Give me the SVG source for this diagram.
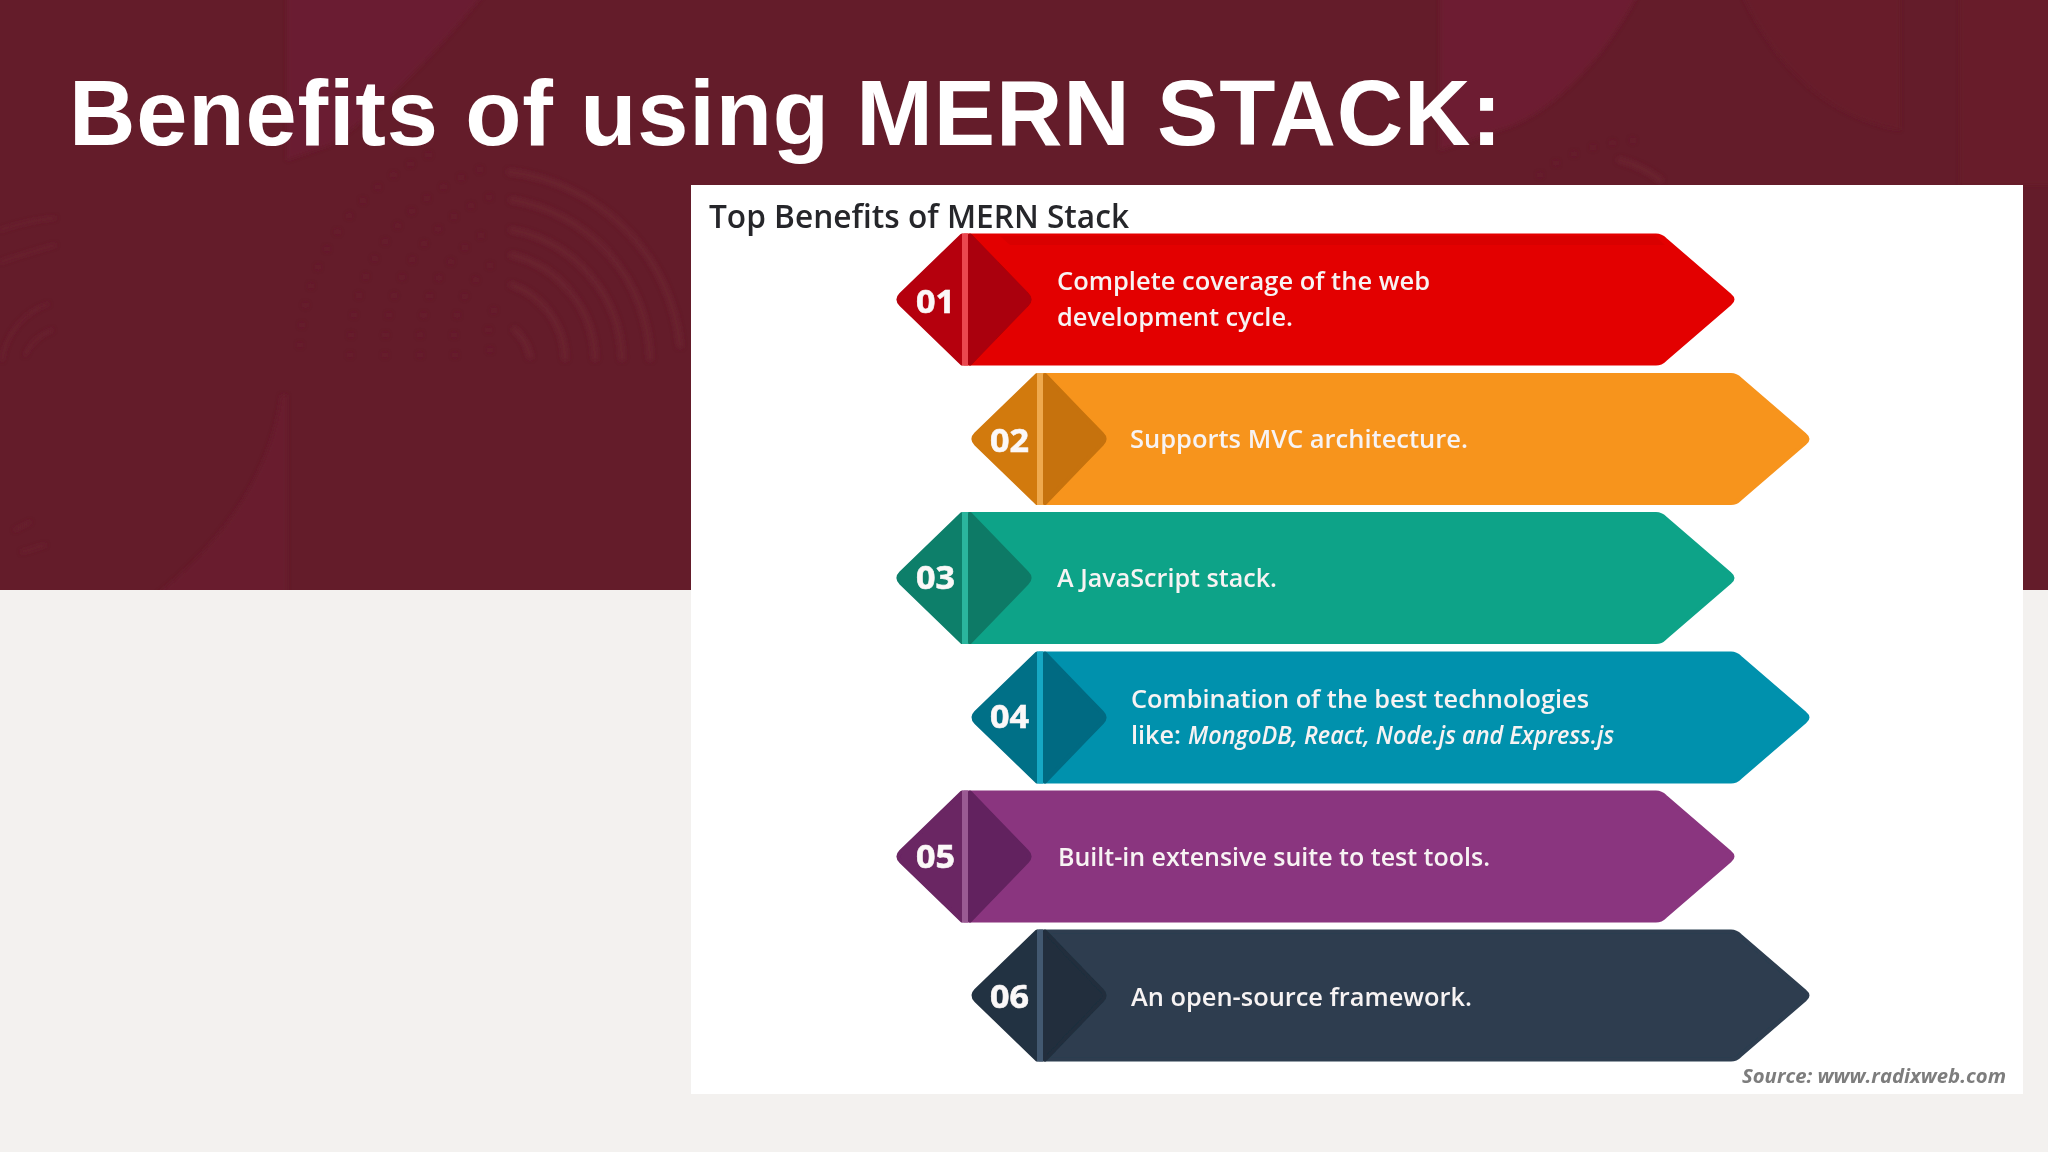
<svg xmlns="http://www.w3.org/2000/svg" width="2048" height="1152" viewBox="0 0 2048 1152">
<style>
.pat{fill:none;stroke:#6e2331;stroke-width:7;stroke-linecap:round;opacity:.6}
.dots{fill:none;stroke:#6d2230;stroke-width:5;stroke-linecap:round;stroke-dasharray:.1 20;opacity:.6}
.fine{fill:none;stroke:#6c2230;stroke-width:2.5;stroke-linecap:round}
.lb{font-family:"Open Sans","Liberation Sans",sans-serif;font-size:26px;font-weight:600;fill:#f7f3f3}
.num{font-family:"Open Sans","Liberation Sans",sans-serif;font-size:33px;font-weight:700;fill:#fbf8f8;stroke:#fbf8f8;stroke-width:.6}
.it{font-style:italic}
.s{stroke-width:4;stroke-linejoin:round}
.m1{fill:#e30000;stroke:#e30000}.l1{fill:#b5040b;stroke:#b5040b}.i1{fill:#aa0208;stroke:#aa0208}.d1{fill:#ea4750}
.m2{fill:#f7941e;stroke:#f7941e}.l2{fill:#d27a10;stroke:#d27a10}.i2{fill:#c6720c;stroke:#c6720c}.d2{fill:#efa94e}
.m3{fill:#0ca388;stroke:#0ca388}.l3{fill:#0b7f6b;stroke:#0b7f6b}.i3{fill:#0b7a66;stroke:#0b7a66}.d3{fill:#2cb59d}
.m4{fill:#0591ad;stroke:#0591ad}.l4{fill:#066f87;stroke:#066f87}.i4{fill:#056a82;stroke:#056a82}.d4{fill:#18a8c4}
.m5{fill:#8a357f;stroke:#8a357f}.l5{fill:#6a2564;stroke:#6a2564}.i5{fill:#62235f;stroke:#62235f}.d5{fill:#9a5a93}
.m6{fill:#2d3e50;stroke:#2d3e50}.l6{fill:#243342;stroke:#243342}.i6{fill:#202e3d;stroke:#202e3d}.d6{fill:#43586f}
</style>
<defs>
<filter id="soft" x="-5%" y="-5%" width="110%" height="110%"><feGaussianBlur stdDeviation="0.7"/></filter>
<filter id="bgsoft" x="-5%" y="-5%" width="110%" height="110%"><feGaussianBlur stdDeviation="2"/></filter>
<clipPath id="bandclip"><rect width="2048" height="590"/></clipPath>
<path id="body" d="M964,-64H1656Q1661,-64 1665,-60L1730,-4Q1735,0 1730,4L1665,60Q1661,64 1656,64H964Z"/>
<path id="left" d="M901,-5L962,-64V64L901,5Q896,0 901,-5Z"/>
<path id="inner" d="M970,-64L1027,-5Q1032,0 1027,5L970,64Z"/>
<rect id="div" x="962" y="-66" width="6" height="132"/>
</defs>
<g id="background">
<rect width="2048" height="1152" fill="#f3f1ef"/>
<rect width="2048" height="590" fill="#641c2a"/>
<g clip-path="url(#bandclip)">
<g filter="url(#bgsoft)">
<path d="M287,-10H487C430,60 380,110 330,145L287,160Z" fill="#6b1e32"/>
<path d="M281,395C270,480 215,550 150,600H287V395Z" fill="#691d2e"/>
<path d="M1440,-10H1640C1600,70 1540,120 1500,130L1440,150Z" fill="#6d1f30"/>
<path d="M1740,-10H1900V130C1840,120 1780,80 1740,-10Z" fill="#681e2c"/>
<rect x="1960" y="-10" width="100" height="195" fill="#681e2c"/>
<g class="pat">
<path d="M530,356A50,50 0 0 0 515,330"/>
<path d="M565,358A80,80 0 0 0 512,285"/>
<path d="M595,358A110,110 0 0 0 512,255"/>
<path d="M622,358A135,135 0 0 0 512,230"/>
<path d="M650,358A165,165 0 0 0 512,200"/>
<path d="M680,345A195,195 0 0 0 510,172"/>
<path d="M1660,180A110,60 0 0 0 1620,160"/>
</g>
<g>
<path class="dots" d="M490,350A60,60 0 0 1 500,300"/>
<path class="dots" d="M455,355A95,95 0 0 1 495,262"/>
<path class="dots" d="M420,355A130,130 0 0 1 495,228"/>
<path class="dots" d="M385,355A165,165 0 0 1 495,195"/>
<path class="dots" d="M350,355A195,195 0 0 1 495,165"/>
<path class="dots" d="M300,345A220,220 0 0 1 440,150"/>
<path class="dots" d="M1540,175A130,80 0 0 1 1640,140"/>
</g>
<g class="fine">
<path d="M25,355A50,50 0 0 1 52,330"/>
<path d="M2,360A70,70 0 0 1 48,304"/>
<path d="M0,230Q30,220 55,218"/>
<path d="M0,262Q30,252 55,245"/>
<path d="M15,530L30,522"/>
<path d="M22,552L45,545"/>
</g>
</g>
</g>
</g>
<text id="title" x="69" y="145" font-family="'Liberation Sans',Arial,sans-serif" font-size="92" font-weight="700" fill="#ffffff" textLength="1433" lengthAdjust="spacing">Benefits of using MERN STACK:</text>
<g id="panel">
<rect x="691" y="185" width="1332" height="909" fill="#ffffff"/>
<text id="heading" x="709" y="228" filter="url(#soft)" font-family="'Open Sans','Liberation Sans',sans-serif" font-size="32" font-weight="600" fill="#26282b" textLength="420" lengthAdjust="spacingAndGlyphs">Top Benefits of MERN Stack</text>
<text id="source" x="1742" y="1083" filter="url(#soft)" font-family="'Open Sans','Liberation Sans',sans-serif" font-size="20" font-weight="700" font-style="italic" fill="#7d7d7d" textLength="264" lengthAdjust="spacingAndGlyphs">Source: www.radixweb.com</text>
</g>
<g id="connectors"/>
<g id="node-01" filter="url(#soft)">
<g transform="translate(0,299.5)"><use href="#body" class="s m1"/><use href="#left" class="s l1"/><use href="#inner" class="s i1"/><use href="#div" class="d1"/></g>
<path d="M1000,236H1655L1665,245H1010Z" fill="#d90000"/>
<text class="num" x="916" y="313" textLength="39" lengthAdjust="spacingAndGlyphs">01</text>
<text class="lb" x="1057" y="290" textLength="373" lengthAdjust="spacingAndGlyphs">Complete coverage of the web</text>
<text class="lb" x="1057" y="326" textLength="236" lengthAdjust="spacingAndGlyphs">development cycle.</text>
</g>
<g id="node-02" filter="url(#soft)">
<g transform="translate(75,439)"><use href="#body" class="s m2"/><use href="#left" class="s l2"/><use href="#inner" class="s i2"/><use href="#div" class="d2"/></g>
<text class="num" x="990" y="452" textLength="39" lengthAdjust="spacingAndGlyphs">02</text>
<text class="lb" x="1130" y="448" textLength="338" lengthAdjust="spacingAndGlyphs">Supports MVC architecture.</text>
</g>
<g id="node-03" filter="url(#soft)">
<g transform="translate(0,578)"><use href="#body" class="s m3"/><use href="#left" class="s l3"/><use href="#inner" class="s i3"/><use href="#div" class="d3"/></g>
<text class="num" x="916" y="589" textLength="39" lengthAdjust="spacingAndGlyphs">03</text>
<text class="lb" x="1057" y="587" textLength="220" lengthAdjust="spacingAndGlyphs">A JavaScript stack.</text>
</g>
<g id="node-04" filter="url(#soft)">
<g transform="translate(75,717.5)"><use href="#body" class="s m4"/><use href="#left" class="s l4"/><use href="#inner" class="s i4"/><use href="#div" class="d4"/></g>
<text class="num" x="990" y="728" textLength="39" lengthAdjust="spacingAndGlyphs">04</text>
<text class="lb" x="1131" y="708" textLength="458" lengthAdjust="spacingAndGlyphs">Combination of the best technologies</text>
<text class="lb" x="1131" y="744" textLength="50" lengthAdjust="spacingAndGlyphs">like:</text>
<text class="lb it" x="1188" y="744" textLength="426" lengthAdjust="spacingAndGlyphs">MongoDB, React, Node.js and Express.js</text>
</g>
<g id="node-05" filter="url(#soft)">
<g transform="translate(0,856.5)"><use href="#body" class="s m5"/><use href="#left" class="s l5"/><use href="#inner" class="s i5"/><use href="#div" class="d5"/></g>
<text class="num" x="916" y="868" textLength="39" lengthAdjust="spacingAndGlyphs">05</text>
<text class="lb" x="1058" y="866" textLength="432" lengthAdjust="spacingAndGlyphs">Built-in extensive suite to test tools.</text>
</g>
<g id="node-06" filter="url(#soft)">
<g transform="translate(75,995.5)"><use href="#body" class="s m6"/><use href="#left" class="s l6"/><use href="#inner" class="s i6"/><use href="#div" class="d6"/></g>
<text class="num" x="990" y="1008" textLength="39" lengthAdjust="spacingAndGlyphs">06</text>
<text class="lb" x="1131" y="1006" textLength="341" lengthAdjust="spacingAndGlyphs">An open-source framework.</text>
</g>
</svg>
